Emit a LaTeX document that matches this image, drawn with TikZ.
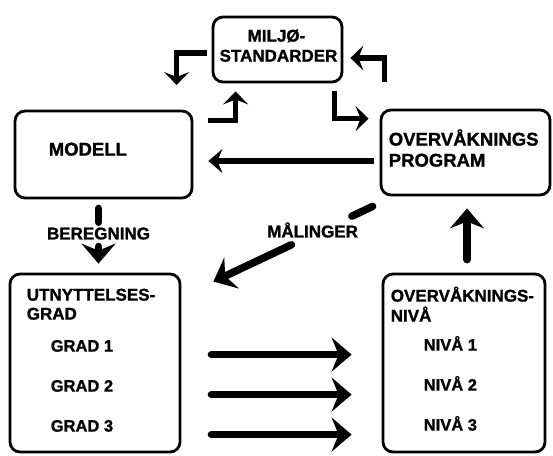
\documentclass[tikz,border=0pt]{standalone}
\usepackage{fontspec}
\setmainfont{Liberation Sans}[BoldFeatures={FakeBold=1.2}]
\usetikzlibrary{arrows.meta,calc,positioning}
\tikzstyle{box}=[draw,line width=2.8pt,rounded corners=10pt,inner sep=0pt]
\tikzstyle{lbl}=[anchor=base west,inner sep=0pt,font=\fontsize{18.5}{22}\selectfont\bfseries]
\tikzstyle{lowlbl}=[anchor=base west,inner sep=0pt,font=\fontsize{17}{20}\selectfont\bfseries]
\tikzstyle{stdlbl}=[anchor=base,inner sep=0pt,font=\fontsize{17}{20}\selectfont\bfseries]
\tikzstyle{sub}=[anchor=base west,inner sep=0pt,font=\fontsize{16.5}{20}\selectfont\bfseries]
\tikzstyle{note}=[anchor=base,inner sep=0pt,font=\fontsize{17}{20}\selectfont\bfseries]
\tikzstyle{elbow}=[line width=5.5pt,-{Stealth[length=13pt,width=25pt,inset=5pt]}]
\tikzstyle{mid}=[line width=5.5pt,-{Stealth[length=14pt,width=24pt,inset=5pt]}]
\tikzstyle{fat}=[line width=7.5pt,line cap=round,-{Stealth[length=20pt,width=34pt,inset=7pt]}]
\tikzstyle{stub}=[line width=7.5pt,line cap=round]

\begin{document}
\begin{tikzpicture}[x=1pt,y=-1pt]
    \useasboundingbox (0,0) rectangle (553,455);
    % boxes
    \node[box,minimum width=129pt,minimum height=65pt] (milj) at (277.5,49.5) {};
    \node[box,minimum width=177pt,minimum height=87pt] (modell) at (103.5,154.5) {};
    \node[box,minimum width=169pt,minimum height=85pt] (prog) at (465.5,152.5) {};
    \node[box,minimum width=170pt,minimum height=178pt] (utn) at (95,363) {};
    \node[box,minimum width=162pt,minimum height=178pt] (niva) at (464,363) {};

    % texts
    \node[stdlbl] (miljA) at ($(milj.north)+(-1,26)$) {MILJØ-};
    \node[stdlbl] (miljB) at ($(miljA.base)+(2,20)$) {STANDARDER};
    \node[lbl] (modelltxt) at ($(modell.north west)+(35,46)$) {MODELL};
    \node[lbl] (progA) at ($(prog.north west)+(9,37)$) {OVERVÅKNINGS};
    \node[lbl] (progB) at ($(progA.base west)+(0,21)$) {PROGRAM};
    \node[lowlbl] (utnA) at ($(utn.north west)+(18,28)$) {UTNYTTELSES-};
    \node[lowlbl] (utnB) at ($(utnA.base west)+(0,19)$) {GRAD};
    \node[lowlbl] (nivaA) at ($(niva.north west)+(9,29)$) {OVERVÅKNINGS-};
    \node[lowlbl] (nivaB) at ($(nivaA.base west)+(0,20)$) {NIVÅ};
    \foreach \i in {1,2,3} {
        \node[sub] (grad\i) at ($(utn.north west)+(42,39+40*\i)$) {GRAD \i};
        \node[sub] (nivaa\i) at ($(niva.north west)+(42,38+40*\i)$) {NIVÅ \i};
    }

    % labels on the dashed connectors
    \node[note] (ber) at ($(modell.south)+(-5,40)$) {BEREGNING};
    \node[note] (mal) at ($(prog.south west)+(-67,41)$) {MÅLINGER};

    % elbow arrows round the standards
    \draw[elbow] ($(milj.west)+(-5,3.5)$) -| ($(milj.west)+(-35,35.5)$);
    \draw[elbow] ($(modell.north east)+(15,11)$) -| ($(milj.south west)+(24,8)$);
    \draw[elbow] ($(milj.south east)+(-9,8)$) |- ($(prog.north west)+(-11,10)$);
    \draw[elbow] ($(prog.north west)+(5,-27)$) |- ($(milj.east)+(7,8.5)$);

    % programme back to model
    \draw[mid] ($(prog.west)+(-6,8.5)$) -- ($(prog.west -| modell.east)+(15,8.5)$);

    % beregning
    \coordinate (bs) at ($(ber |- modell.south)+(0,9)$);
    \coordinate (bt) at ($(ber |- utn.north)+(0,-9)$);
    \draw[stub] (bs) -- ($(bs)!0.25!(bt)$);
    \draw[fat] ($(bs)!0.69!(bt)$) -- (bt);

    % malinger
    \coordinate (ms) at ($(prog.south west)+(-7,10)$);
    \coordinate (mt) at ($(utn.north east)+(32,9)$);
    \draw[stub] (ms) -- ($(ms)!0.13!(mt)$);
    \draw[fat] ($(ms)!0.51!(mt)$) -- (mt);

    % levels
    \draw[fat] ($(niva.north)+(3,-13)$) -- ($(niva.north |- prog.south)+(3,12)$);
    \foreach \i in {1,2,3}
        \draw[fat] ($(grad\i.base -| utn.east)+(30,3)$) -- ($(grad\i.base -| niva.west)+(-30,3)$);
\end{tikzpicture}
\end{document}
